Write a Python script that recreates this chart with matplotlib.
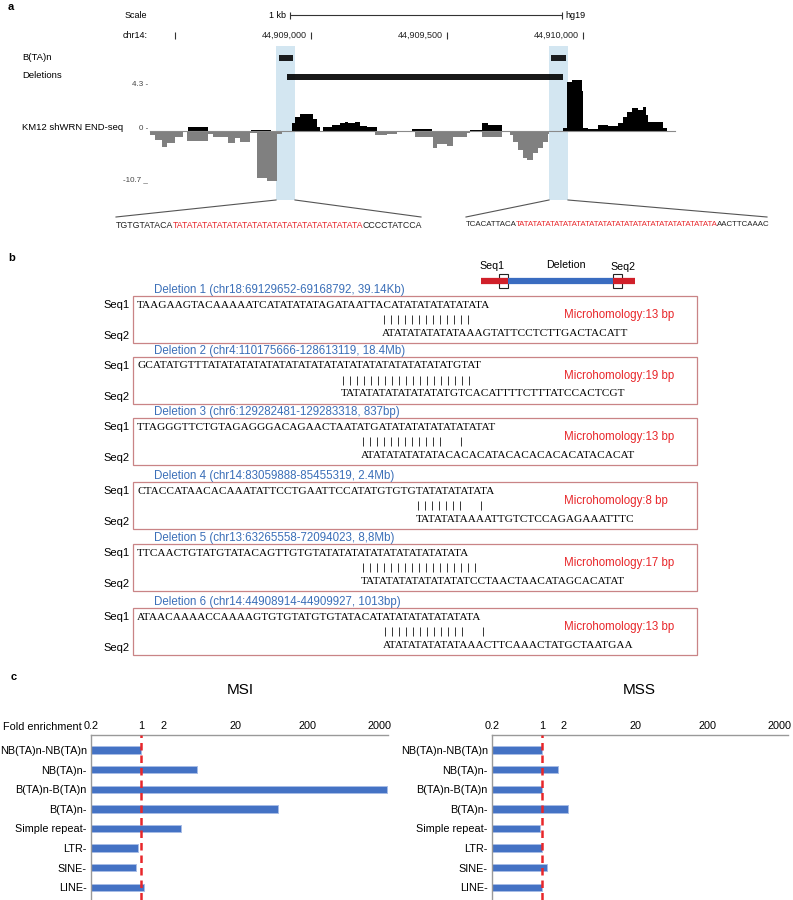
import matplotlib
matplotlib.use("Agg")
import matplotlib.pyplot as plt
from matplotlib.patches import Rectangle
from matplotlib.ticker import NullLocator

W, H = 793, 900
SANS = "Liberation Sans"
SERIF = "Liberation Serif"

# ---------------- panel a: browser view, chr14 (hg19)
chrom_ticks = [44908500, 44909000, 44909500, 44910000]
chrom_tick_labels = ["", "44,909,000", "44,909,500", "44,910,000"]
scale_bar = (44908924, 44909924)
bta_regions = [(44908883, 44908935), (44909883, 44909938)]
deletion_region = (44908914, 44909927)
highlight_regions = [(44908872, 44908942), (44909876, 44909946)]
track_range = (44908409, 44910339)

# END-seq signal, minus strand (grey) and plus strand (black)
neg_edges = [44908409, 44908428, 44908452, 44908471, 44908501, 44908532, 44908544,
             44908624, 44908642, 44908697, 44908722, 44908740, 44908777, 44908804,
             44908839, 44908876, 44908893, 44909236, 44909279, 44909316, 44909365,
             44909383, 44909451, 44909463, 44909500, 44909524, 44909573, 44909586,
             44909629, 44909702, 44909733, 44909745, 44909763, 44909781, 44909794,
             44909818, 44909837, 44909855, 44909872, 44909876]
neg_values = [-0.84, -1.89, -3.36, -2.52, -1.26, -0.21, -2.10, -0.63, -1.26, -2.52,
              -1.47, -2.31, -0.42, -9.86, -10.5, -0.63, 0, -0.84, -0.63, -0.31,
              -0.21, -1.26, -3.57, -2.73, -3.15, -1.26, -0.42, -0.21, -1.26, -0.31,
              -0.84, -2.31, -3.99, -5.66, -6.08, -4.62, -3.57, -2.31, -0.63]
pos_edges = [44908548, 44908624, 44908780, 44908854, 44908932, 44908942, 44908961,
             44909010, 44909022, 44909034, 44909046, 44909077, 44909108, 44909126,
             44909138, 44909163, 44909181, 44909206, 44909243, 44909371, 44909445,
             44909586, 44909629, 44909653, 44909702, 44909929, 44909941, 44909959,
             44909996, 44910002, 44910020, 44910057, 44910094, 44910131, 44910149,
             44910162, 44910180, 44910204, 44910223, 44910231, 44910241, 44910266,
             44910296, 44910309]
pos_values = [0.34, 0, 0.11, 0, 0.67, 1.18, 1.43, 1.01, 0.34, 0, 0.34, 0.51, 0.67,
              0.76, 0.67, 0.76, 0.42, 0.34, 0, 0.14, 0, 0.08, 0.67, 0.51, 0, 0.25,
              4.13, 4.30, 3.37, 0.25, 0.13, 0.51, 0.42, 0.67, 1.18, 1.60, 1.94, 1.77,
              2.02, 1.35, 0.76, 0.76, 0.25]
pos_max, neg_min = 4.3, -10.7

left_junction = [("TGTGTATACA", "#222222"),
                 ("TATATATATATATATATATATATATATATATATATATA", "#e8262a"),
                 ("CCCCTATCCA", "#222222")]
right_junction = [("TCACATTACA", "#222222"),
                  ("TATATATATATATATATATATATATATATATATATATATATATATA", "#e8262a"),
                  ("AACTTCAAAC", "#222222")]

# ---------------- panel b: junction sequences
deletion_titles = [
    "Deletion 1 (chr18:69129652-69168792, 39.14Kb)",
    "Deletion 2 (chr4:110175666-128613119, 18.4Mb)",
    "Deletion 3 (chr6:129282481-129283318, 837bp)",
    "Deletion 4 (chr14:83059888-85455319, 2.4Mb)",
    "Deletion 5 (chr13:63265558-72094023, 8,8Mb)",
    "Deletion 6 (chr14:44908914-44909927, 1013bp)",
]
seq1_list = [
    "TAAGAAGTACAAAAATCATATATATAGATAATTACATATATATATATATA",
    "GCATATGTTTATATATATATATATATATATATATATATATATATATATGTAT",
    "TTAGGGTTCTGTAGAGGGACAGAACTAATATGATATATATATATATATAT",
    "CTACCATAACACAAATATTCCTGAATTCCATATGTGTGTATATATATATA",
    "TTCAACTGTATGTATACAGTTGTGTATATATATATATATATATATATA",
    "ATAACAAAACCAAAAGTGTGTATGTGTATACATATATATATATATATA",
]
seq2_list = [
    "ATATATATATATAAAGTATTCCTCTTGACTACATT",
    "TATATATATATATATATGTCACATTTTCTTTATCCACTCGT",
    "ATATATATATATACACACATACACACACACATACACAT",
    "TATATATAAAATTGTCTCCAGAGAAATTTC",
    "TATATATATATATATATCCTAACTAACATAGCACATAT",
    "ATATATATATATAAACTTCAAACTATGCTAATGAA",
]
match_bars = [
    "|||||||||||||",
    "|||||||||||||||||||",
    "||||||||||||  |",
    "|||||||  |",
    "|||||||||||||||||",
    "||||||||||||  |",
]
microhomology_bp = [13, 19, 13, 8, 17, 13]

# ---------------- panel c: fold enrichment
categories = ["NB(TA)n-NB(TA)n", "NB(TA)n-", "B(TA)n-B(TA)n", "B(TA)n-",
              "Simple repeat-", "LTR-", "SINE-", "LINE-"]
msi_fold = [1.0, 5.9, 2600, 80, 3.5, 0.91, 0.84, 1.09]
mss_fold = [1.0, 1.67, 1.0, 2.27, 0.92, 1.0, 1.16, 1.0]
fold_ticks = [0.2, 1, 2, 20, 200, 2000]
fold_tick_labels = ["0.2", "1", "2", "20", "200", "2000"]


fig = plt.figure(figsize=(W / 100, H / 100), dpi=100)


def px_axes(x0, y0, x1, y1, **kw):
    # axes placed with pixel box, y measured from the top
    return fig.add_axes([x0 / W, 1 - y1 / H, (x1 - x0) / W, (y1 - y0) / H], **kw)


canvas = px_axes(0, 0, W, H, zorder=5)
canvas.set_xlim(0, W)
canvas.set_ylim(H, 0)
canvas.axis("off")
canvas.patch.set_visible(False)


def txt(x, y, s, size, family=SANS, **kw):
    kw.setdefault("va", "center")
    return canvas.text(x, y, s, fontsize=size, family=family, **kw)


def colored_run(x, y, parts, size):
    t = txt(x, y, parts[0][0], size, color=parts[0][1])
    for s, c in parts[1:]:
        t = canvas.annotate(s, xy=(1, 0), xycoords=t, xytext=(-0.6, 0),
                            textcoords="offset points", va="bottom", ha="left",
                            color=c, fontsize=size, family=SANS)


# ---- panel a
txt(8, 7, "a", 8, weight="bold")
browser = px_axes(150, 0, 675, 205)
browser.set_xlim(*track_range)
browser.set_ylim(205, 0)
browser.axis("off")

for a, b in highlight_regions:
    browser.axvspan(a, b, ymin=(205 - 200) / 205, ymax=(205 - 46) / 205,
                    color="#d3e6f1", lw=0, zorder=0)
for a, b in bta_regions:
    browser.add_patch(Rectangle((a, 55), b - a, 6, color="black", alpha=0.88, lw=0, zorder=2))
a, b = deletion_region
browser.add_patch(Rectangle((a, 74), b - a, 6, color="black", alpha=0.9, lw=0, zorder=2))

browser.vlines(chrom_ticks, 32, 39, color="#333333", lw=0.8)
for t, lab in zip(chrom_ticks, chrom_tick_labels):
    if lab:
        browser.annotate(lab, xy=(t, 35), xytext=(-3, 0), textcoords="offset points",
                         ha="right", va="center", fontsize=6.5, family=SANS, color="#222222")
browser.hlines(15, *scale_bar, color="#333333", lw=0.8)
browser.vlines(scale_bar, 11.5, 18.5, color="#333333", lw=0.8)
browser.annotate("1 kb", xy=(scale_bar[0], 15), xytext=(-3, 0), textcoords="offset points",
                 ha="right", va="center", fontsize=6.5, family=SANS)
browser.annotate("hg19", xy=(scale_bar[1], 15), xytext=(2, 0), textcoords="offset points",
                 ha="left", va="center", fontsize=6.5, family=SANS)

txt(147, 15, "Scale", 6.5, ha="right")
txt(148, 35, "chr14:", 6.5, ha="right")
txt(22, 58, "B(TA)n", 6.8)
txt(22, 76, "Deletions", 6.8)
txt(22, 128, "KM12 shWRN END-seq", 6.8)
txt(148, 84, "4.3 -", 5.8, ha="right", color="#444444")
txt(148, 129, "0 -", 5.8, ha="right", color="#444444")
txt(148, 180, "-10.7 _", 5.8, ha="right", color="#444444")

ax_pos = px_axes(150, 80, 675, 131)
ax_pos.stairs(pos_values, pos_edges, fill=True, color="black", lw=0)
ax_pos.set_xlim(*track_range)
ax_pos.set_ylim(0, pos_max)
ax_pos.axis("off")
ax_pos.patch.set_visible(False)

ax_neg = px_axes(150, 131, 675, 182)
ax_neg.stairs(neg_values, neg_edges, fill=True, color="#808080", lw=0)
ax_neg.axhline(0, color="#8a8a8a", lw=0.8, clip_on=False)
ax_neg.set_xlim(*track_range)
ax_neg.set_ylim(neg_min, 0)
ax_neg.axis("off")
ax_neg.patch.set_visible(False)

# zoom-in lines down to the junction sequences
canvas.plot([116, 276], [217, 200], color="#555555", lw=0.8)
canvas.plot([295, 421], [200, 217], color="#555555", lw=0.8)
canvas.plot([466, 549], [217, 200], color="#555555", lw=0.8)
canvas.plot([568, 767], [200, 217], color="#555555", lw=0.8)
colored_run(116, 225, left_junction, 6.3)
colored_run(466, 225, right_junction, 5.7)

# ---- panel b
txt(8, 258, "b", 8, weight="bold")
# schematic
canvas.plot([481, 508], [281, 281], color="#d0202a", lw=4.5, solid_capstyle="butt")
canvas.plot([508, 613], [281, 281], color="#3a6cc0", lw=4.5, solid_capstyle="butt")
canvas.plot([613, 635], [281, 281], color="#d0202a", lw=4.5, solid_capstyle="butt")
for x in (499, 613):
    canvas.add_patch(Rectangle((x, 274), 9, 14, fill=False, ec="#222222", lw=0.8))
txt(492, 266, "Seq1", 7.7, ha="center")
txt(566, 265, "Deletion", 7.7, ha="center")
txt(623, 267, "Seq2", 7.7, ha="center")

box_tops = [296, 357, 418, 482, 544, 608]
seq2_x = [382, 341, 361, 416, 361, 383]
for i, top in enumerate(box_tops):
    canvas.add_patch(Rectangle((133, top), 564, 47, fill=False, ec="#c98486", lw=0.9))
    txt(154, top - 6, deletion_titles[i], 8.3, color="#3b6fb8")
    txt(103, top + 9, "Seq1", 8)
    txt(103, top + 40, "Seq2", 8)
    txt(137, top + 9, seq1_list[i], 8.1, family=SERIF)
    txt(seq2_x[i], top + 37, seq2_list[i], 8.1, family=SERIF)
    xs = [seq2_x[i] + 1.5 + 7.0 * k for k, ch in enumerate(match_bars[i]) if ch == "|"]
    canvas.vlines(xs, top + 19, top + 28, color="#333333", lw=0.7)
    txt(564, top + 19, f"Microhomology:{microhomology_bp[i]} bp", 8.3, color="#e8262a")

# ---- panel c
txt(11, 677, "c", 8, weight="bold")
txt(240, 690, "MSI", 11, ha="center")
txt(639, 690, "MSS", 11, ha="center")
txt(3, 727, "Fold enrichment", 7.8)

for x0, x1, vals in [(91, 388, msi_fold), (492, 788, mss_fold)]:
    ax = px_axes(x0, 735, x1, 900)
    ypos = list(range(len(categories)))
    ax.barh(ypos, [v - 0.2 for v in vals], left=0.2, height=0.37,
            color="#4472c4", edgecolor="#a8bde6", lw=0.7, zorder=2)
    ax.axvline(1, color="#e8262a", ls=(0, (3, 2)), lw=1.8, zorder=3)
    ax.set_xscale("log")
    ax.set_xlim(0.2, 2650)
    ax.set_ylim(7.65, -0.77)
    ax.xaxis.tick_top()
    ax.set_xticks(fold_ticks, labels=fold_tick_labels)
    ax.xaxis.set_minor_locator(NullLocator())
    ax.set_yticks(ypos, labels=categories)
    ax.tick_params(length=0, labelsize=7.8, pad=3)
    for lab in ax.get_xticklabels() + ax.get_yticklabels():
        lab.set_family(SANS)
    for side in ("bottom", "right"):
        ax.spines[side].set_visible(False)
    for side in ("top", "left"):
        ax.spines[side].set_color("#999999")
        ax.spines[side].set_linewidth(1.0)

fig.savefig("out.png", dpi=100)
